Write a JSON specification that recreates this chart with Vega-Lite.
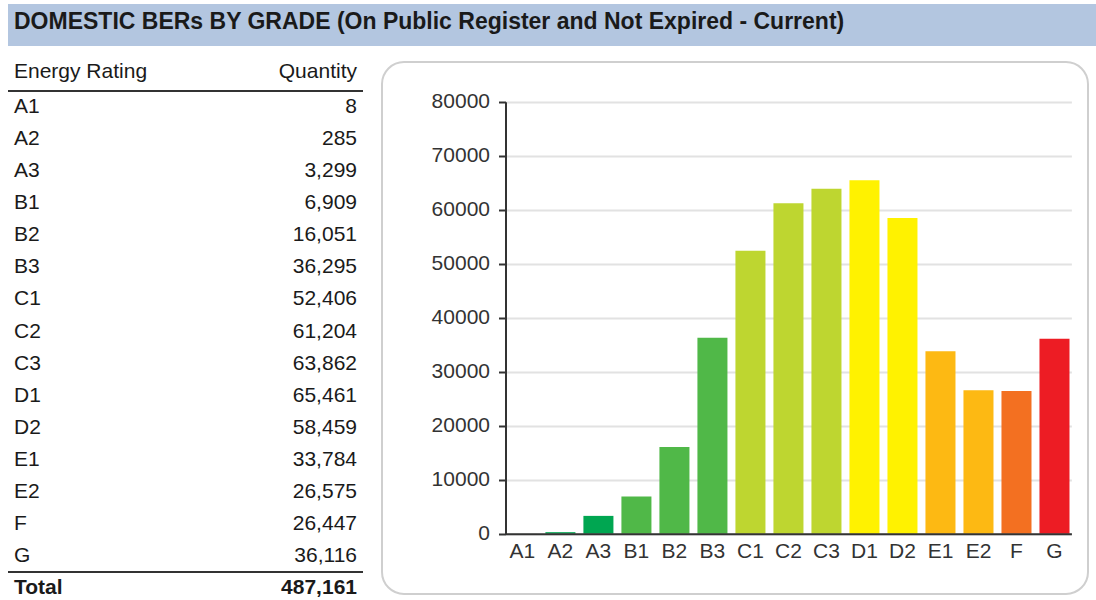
{
  "$schema": "https://vega.github.io/schema/vega-lite/v6.json",
  "background": "white",
  "padding": {"top": 4, "left": 7, "right": 0, "bottom": 0},
  "config": {"font": "Liberation Sans", "view": {"stroke": null}},
  "datasets": {
    "grades": [
      {"grade": "A1", "qty": 8},
      {"grade": "A2", "qty": 285},
      {"grade": "A3", "qty": 3299},
      {"grade": "B1", "qty": 6909},
      {"grade": "B2", "qty": 16051},
      {"grade": "B3", "qty": 36295},
      {"grade": "C1", "qty": 52406},
      {"grade": "C2", "qty": 61204},
      {"grade": "C3", "qty": 63862},
      {"grade": "D1", "qty": 65461},
      {"grade": "D2", "qty": 58459},
      {"grade": "E1", "qty": 33784},
      {"grade": "E2", "qty": 26575},
      {"grade": "F", "qty": 26447},
      {"grade": "G", "qty": 36116}
    ],
    "header": [{"label": "Energy Rating", "heading": "Quantity"}],
    "total": [{"label": "Total", "qty": 487161}]
  },
  "spacing": 14,
  "vconcat": [
    {
      "width": 1089,
      "height": 42,
      "view": {"fill": "#b3c6e0", "stroke": null},
      "data": {"values": [{"title": "DOMESTIC BERs BY GRADE (On Public Register and Not Expired - Current)"}]},
      "mark": {"type": "text", "align": "left", "baseline": "middle", "fontSize": 23, "fontWeight": "bold", "color": "#1a1a1a", "dy": -3},
      "encoding": {
        "x": {"value": 6},
        "text": {"field": "title"}
      }
    },
    {
      "spacing": 17,
      "hconcat": [
        {
          "width": 355,
          "height": 536,
          "view": {"stroke": null},
          "layer": [
            {
              "data": {"name": "header"},
              "mark": {"type": "text", "align": "left", "baseline": "middle", "fontSize": 21, "color": "#1a1a1a", "dy": -3},
              "encoding": {
                "x": {"datum": "left", "type": "nominal", "scale": {"type": "point", "domain": ["left", "right"], "range": [6, 349], "padding": 0}, "axis": null},
                "y": {"field": "label", "type": "ordinal", "scale": {"type": "band", "domain": ["Energy Rating", "A1", "A2", "A3", "B1", "B2", "B3", "C1", "C2", "C3", "D1", "D2", "E1", "E2", "F", "G", "Total"], "range": [-3.1, 542.1], "paddingInner": 0, "paddingOuter": 0}, "axis": null},
                "text": {"field": "label"}
              }
            },
            {
              "data": {"name": "header"},
              "mark": {"type": "text", "align": "right", "baseline": "middle", "fontSize": 21, "color": "#1a1a1a", "dy": -3},
              "encoding": {
                "x": {"datum": "right", "type": "nominal"},
                "y": {"field": "label", "type": "ordinal"},
                "text": {"field": "heading"}
              }
            },
            {
              "data": {"name": "header"},
              "mark": {"type": "rule", "color": "#333333", "strokeWidth": 2},
              "encoding": {
                "y": {"field": "label", "type": "ordinal", "bandPosition": 1}
              }
            },
            {
              "data": {"name": "grades"},
              "mark": {"type": "text", "align": "left", "baseline": "middle", "fontSize": 21, "color": "#1a1a1a"},
              "encoding": {
                "x": {"datum": "left", "type": "nominal"},
                "y": {"field": "grade", "type": "ordinal"},
                "text": {"field": "grade"}
              }
            },
            {
              "data": {"name": "grades"},
              "mark": {"type": "text", "align": "right", "baseline": "middle", "fontSize": 21, "color": "#1a1a1a"},
              "encoding": {
                "x": {"datum": "right", "type": "nominal"},
                "y": {"field": "grade", "type": "ordinal"},
                "text": {"field": "qty", "type": "quantitative", "format": ","}
              }
            },
            {
              "data": {"name": "total"},
              "mark": {"type": "rule", "color": "#333333", "strokeWidth": 2},
              "encoding": {
                "y": {"field": "label", "type": "ordinal", "bandPosition": 0}
              }
            },
            {
              "data": {"name": "total"},
              "mark": {"type": "text", "align": "left", "baseline": "middle", "fontSize": 21, "fontWeight": "bold", "color": "#1a1a1a"},
              "encoding": {
                "x": {"datum": "left", "type": "nominal"},
                "y": {"field": "label", "type": "ordinal"},
                "text": {"field": "label"}
              }
            },
            {
              "data": {"name": "total"},
              "mark": {"type": "text", "align": "right", "baseline": "middle", "fontSize": 21, "fontWeight": "bold", "color": "#1a1a1a"},
              "encoding": {
                "x": {"datum": "right", "type": "nominal"},
                "y": {"field": "label", "type": "ordinal"},
                "text": {"field": "qty", "type": "quantitative", "format": ","}
              }
            }
          ]
        },
        {
          "width": 706,
          "height": 532,
          "view": {"stroke": "#cfcfcf", "strokeWidth": 2, "cornerRadius": 22, "fill": "white"},
          "data": {"name": "grades"},
          "mark": {"type": "bar"},
          "encoding": {
            "x": {
              "field": "grade",
              "type": "nominal",
              "sort": null,
              "scale": {"domain": ["A1", "A2", "A3", "B1", "B2", "B3", "C1", "C2", "C3", "D1", "D2", "E1", "E2", "F", "G"], "range": [123.5, 689.4], "paddingInner": 0.21, "paddingOuter": 0.05},
              "axis": {
                "title": null,
                "orient": "bottom",
                "offset": -60.3,
                "labelAngle": 0,
                "ticks": false,
                "tickSize": 0,
                "grid": false,
                "domainColor": "#333333",
                "domainWidth": 2,
                "labelFontSize": 21,
                "labelColor": "#333333",
                "labelPadding": 7,
                "labelOverlap": false,
                "zindex": 1
              }
            },
            "y": {
              "field": "qty",
              "type": "quantitative",
              "scale": {"domain": [0, 80000], "range": [471.7, 39.7], "nice": false, "zero": true},
              "axis": {
                "title": null,
                "offset": -123.5,
                "values": [0, 10000, 20000, 30000, 40000, 50000, 60000, 70000, 80000],
                "format": "d",
                "grid": true,
                "gridColor": "#e2e2e2",
                "gridWidth": 2,
                "domainColor": "#333333",
                "domainWidth": 2,
                "tickColor": "#333333",
                "tickWidth": 2,
                "tickSize": 7,
                "labelPadding": 9,
                "labelFontSize": 21,
                "labelColor": "#333333"
              }
            },
            "color": {
              "field": "grade",
              "type": "nominal",
              "scale": {
                "domain": ["A1", "A2", "A3", "B1", "B2", "B3", "C1", "C2", "C3", "D1", "D2", "E1", "E2", "F", "G"],
                "range": ["#00a651", "#00a651", "#00a651", "#50b848", "#50b848", "#50b848", "#bed630", "#bed630", "#bed630", "#fff200", "#fff200", "#fdb913", "#fdb913", "#f37021", "#ed1c24"]
              },
              "legend": null
            }
          }
        }
      ]
    }
  ]
}
